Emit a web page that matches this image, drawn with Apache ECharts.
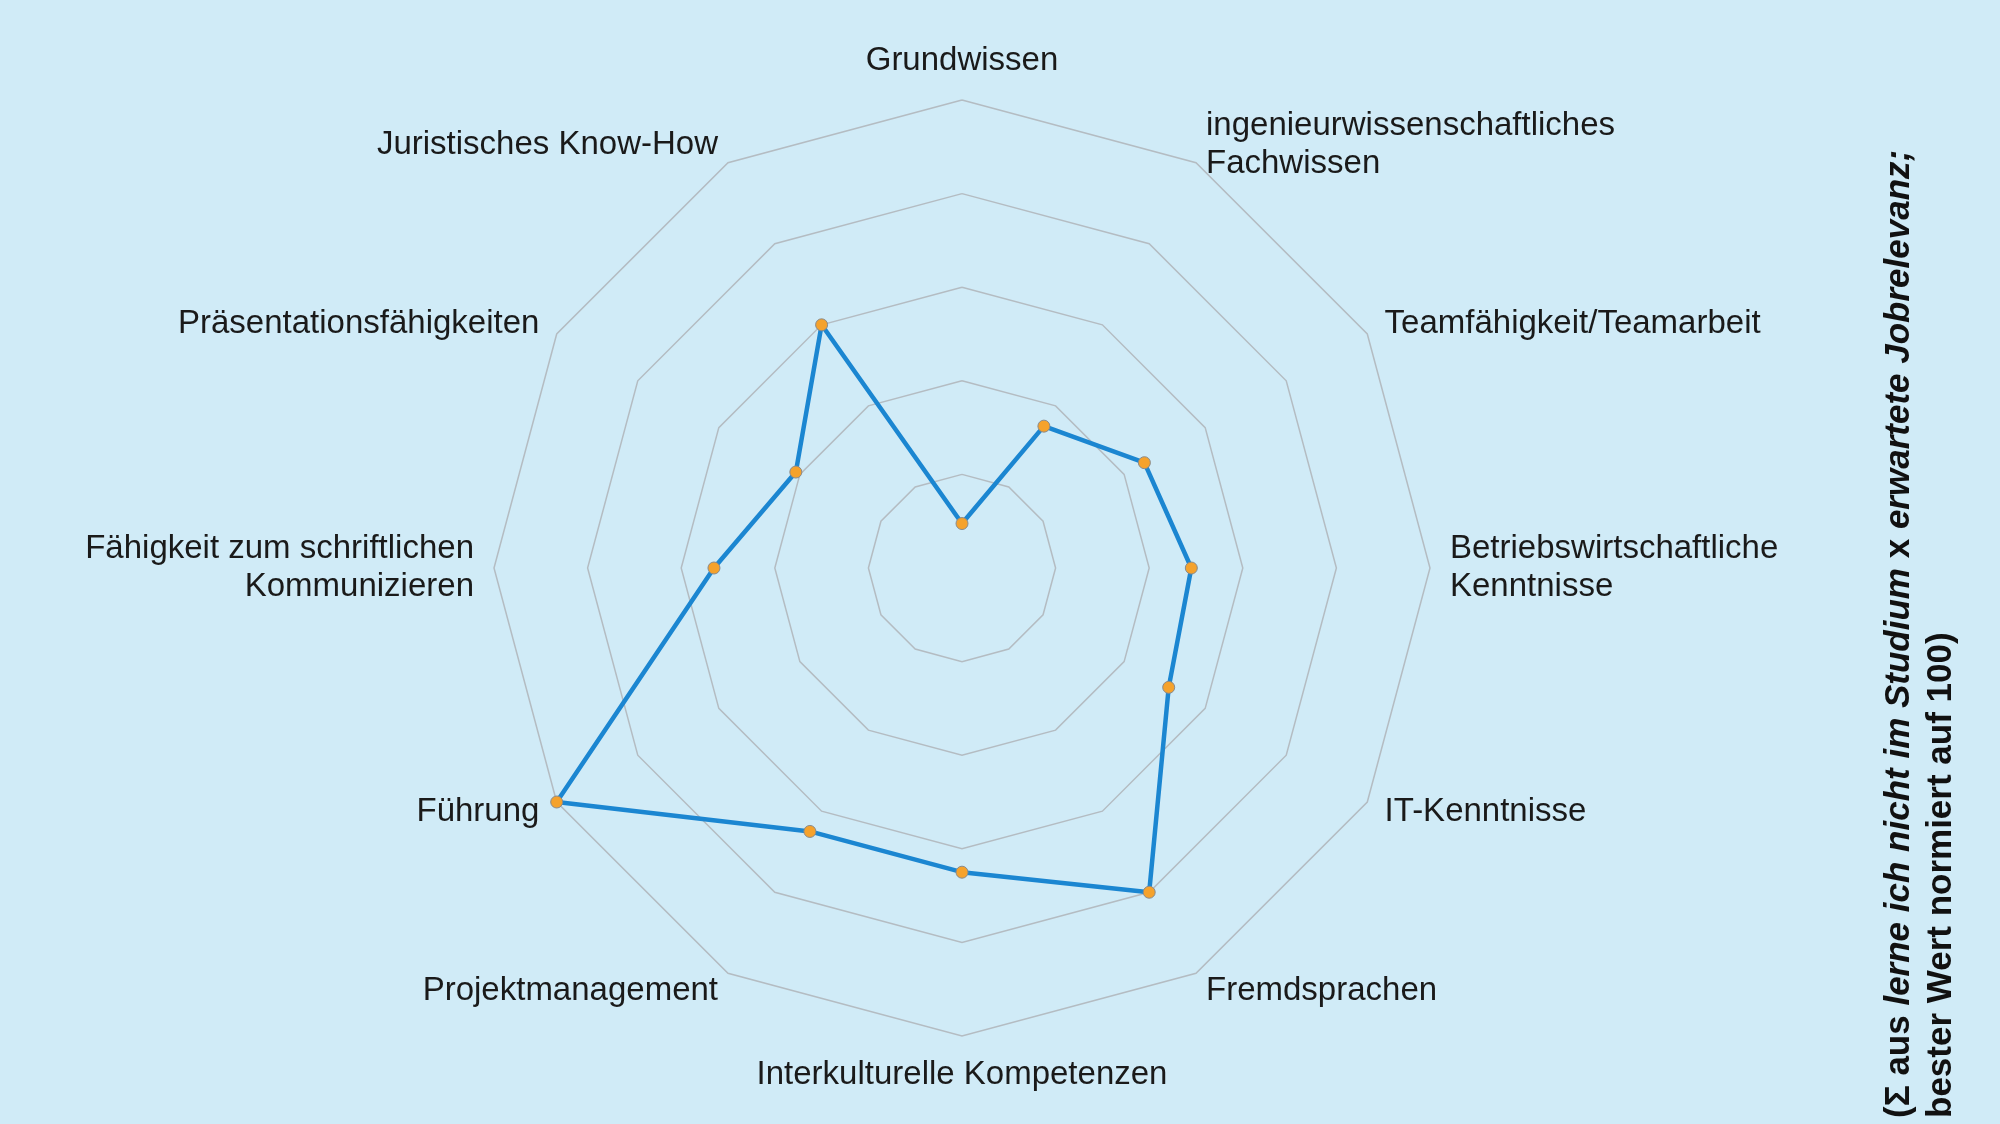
<!DOCTYPE html>
<html><head><meta charset="utf-8">
<script src="https://cdn.jsdelivr.net/npm/echarts@6/dist/echarts.min.js"></script>
<style>html,body{margin:0;padding:0;background:#d0ebf7}#c{width:2000px;height:1124px}</style>
</head><body><div id="c"></div>
<script>
// listed clockwise from top
const categories = ["Grundwissen","ingenieurwissenschaftliches\nFachwissen","Teamfähigkeit/Teamarbeit","Betriebswirtschaftliche\nKenntnisse","IT-Kenntnisse","Fremdsprachen","Interkulturelle Kompetenzen","Projektmanagement","Führung","Fähigkeit zum schriftlichen\nKommunizieren","Präsentationsfähigkeiten","Juristisches Know-How"];
const values = [9.5,35,45,49,51,80,65,65,100,53,41,60];
const noteLines = ["(Σ aus lerne ich nicht im Studium x erwartete Jobrelevanz;","bester Wert normiert auf 100)"];
// ECharts radar runs counter-clockwise: reorder
const order = [0].concat(categories.map((_,i)=>i).slice(1).reverse());
const chart = echarts.init(document.getElementById('c'));
chart.setOption({
  backgroundColor:'#d0ebf7',
  radar:{
    center:[962,568], radius:468, shape:'polygon', splitNumber:5, startAngle:90,
    indicator: order.map(i=>({name:categories[i],max:100,min:0})),
    axisName:{color:'#1a1a1a',fontSize:33,fontFamily:'Liberation Sans, Arial',lineHeight:38},
    nameGap:20,
    splitLine:{lineStyle:{color:'#b4bcc2',width:1.5}},
    splitArea:{show:false},
    axisLine:{show:false},
    axisTick:{show:false}
  },
  series:[{type:'radar',
    data:[{value:order.map(i=>values[i])}],
    lineStyle:{color:'#1b86d1',width:4.5},
    itemStyle:{color:'#f5a22c',borderColor:'#8a8a8a',borderWidth:1},
    symbol:'circle',symbolSize:12}],
  graphic:[
    {type:'text',x:1882,y:1118,rotation:Math.PI/2,style:{rich:{i:{fontStyle:'italic',fontWeight:'bold',fontSize:35,fill:'#111',fontFamily:'Liberation Sans'},b:{fontWeight:'bold',fontSize:35,fill:'#111',fontFamily:'Liberation Sans'}},
      text:'{b|(Σ aus }{i|lerne ich nicht im Studium}{b| x }{i|erwartete Jobrelevanz;}'}},
    {type:'text',x:1924,y:1118,rotation:Math.PI/2,style:{text:noteLines[1],fontWeight:'bold',fontSize:35,fill:'#111',fontFamily:'Liberation Sans'}}
  ]
});
</script></body></html>
